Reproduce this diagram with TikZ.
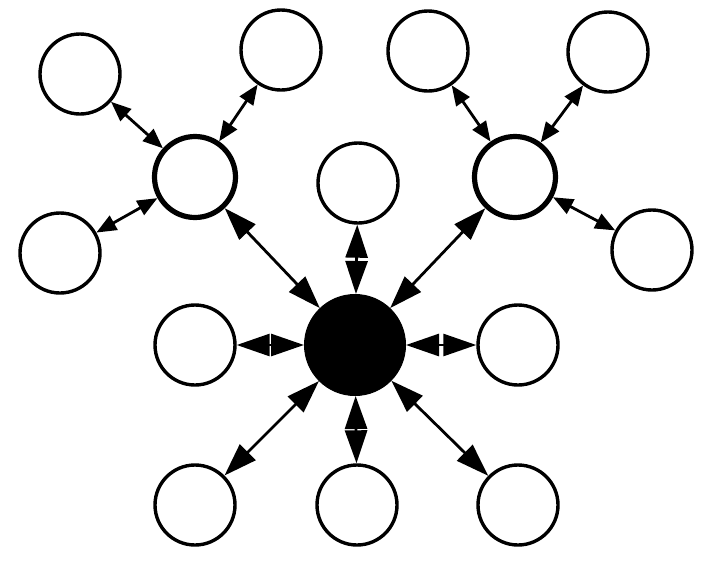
\documentclass[tikz,border=0pt]{standalone}
\usetikzlibrary{arrows.meta}
\begin{document}
\begin{tikzpicture}[x=1pt,y=-1pt,
  sat/.style={circle,draw,line width=3.4pt,minimum size=80pt,inner sep=0pt,fill=white},
  hub/.style={circle,draw,line width=5.2pt,minimum size=81pt,inner sep=0pt,fill=white},
  core/.style={circle,fill=black,draw=black,line width=1pt,minimum size=101pt,inner sep=0pt},
  big/.style={line width=2.8pt,{Triangle[length=33pt,width=22pt]}-{Triangle[length=33pt,width=22pt]}},
  small/.style={line width=2.8pt,{Triangle[length=20pt,width=16pt]}-{Triangle[length=20pt,width=16pt]}}]
\useasboundingbox (0,0) rectangle (702,579);
\node[core] (c) at (355,345) {};
\node[hub] (hl) at (195,177) {};
\node[hub] (hr) at (515,177) {};
\node[sat] (l1) at (80,74) {};
\node[sat] (l2) at (281,50) {};
\node[sat] (l3) at (60,253) {};
\node[sat] (r1) at (428,51) {};
\node[sat] (r2) at (608,52) {};
\node[sat] (r3) at (652,250) {};
\node[sat] (t) at (358,183) {};
\node[sat] (w) at (195,345) {};
\node[sat] (e) at (518,345) {};
\node[sat] (b1) at (195,505) {};
\node[sat] (b2) at (357,505) {};
\node[sat] (b3) at (518,505) {};
\draw[big] (hl) -- (c);
\draw[big] (hr) -- (c);
\draw[big] (t) -- (c);
\draw[big] (w) -- (c);
\draw[big] (e) -- (c);
\draw[big] (b1) -- (c);
\draw[big] (b2) -- (c);
\draw[big] (b3) -- (c);
\draw[small] (l1) -- (hl);
\draw[small] (l2) -- (hl);
\draw[small] (l3) -- (hl);
\draw[small] (r1) -- (hr);
\draw[small] (r2) -- (hr);
\draw[small] (r3) -- (hr);
\end{tikzpicture}
\end{document}
